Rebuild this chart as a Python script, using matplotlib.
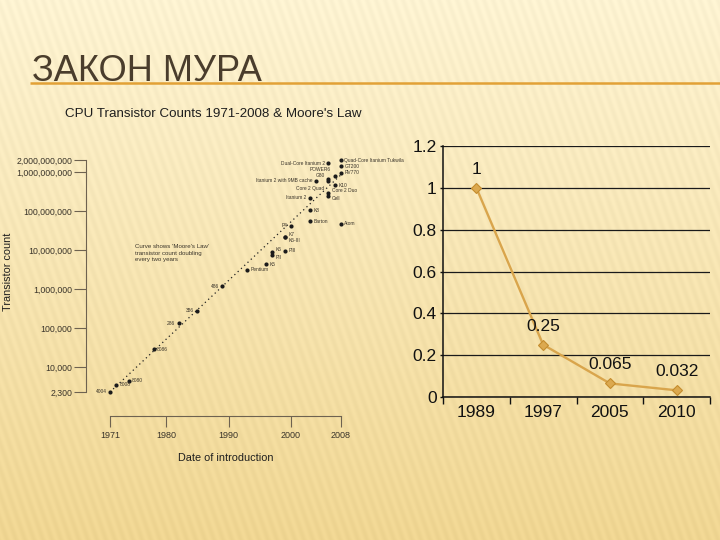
import numpy as np
import matplotlib
matplotlib.use("Agg")
import matplotlib.pyplot as plt
from matplotlib.ticker import FixedLocator, NullLocator, FixedFormatter

plt.rcParams['font.family'] = ['Liberation Sans', 'DejaVu Sans']

# ---------------- data ----------------
title_text = "ЗАКОН МУРА"

cpu_names = ["4004", "8008", "8080", "8086", "286", "386", "486", "Pentium", "K5",
             "K6", "PII", "PIII", "K7", "K6-III", "P4", "Barton", "Atom", "K8",
             "Itanium 2", "Core 2 Duo", "Cell", "K10", "Core 2 Quad",
             "Itanium 2 with 9MB cache", "G80", "POWER6", "Dual-Core Itanium 2",
             "Quad-Core Itanium Tukwila", "GT200", "RV770"]
cpu_years = [1971, 1972, 1974, 1978, 1982, 1985, 1989, 1993, 1996,
             1997, 1997, 1999, 1999, 1999, 2000, 2003, 2008, 2003,
             2003, 2006, 2006, 2007, 2006,
             2004, 2006, 2007, 2006,
             2008, 2008, 2008]
cpu_counts = [2300, 3500, 4500, 29000, 134000, 275000, 1200000, 3100000, 4300000,
              8800000, 7500000, 9500000, 22000000, 21300000, 42000000, 54300000, 47000000, 105900000,
              220000000, 291000000, 241000000, 463000000, 582000000,
              592000000, 681000000, 789000000, 1700000000,
              2000000000, 1400000000, 956000000]

moore_start_year = 1971
moore_end_year = 2008
moore_start_count = 2300
moore_doubling_years = 2

left_yticks = [2300, 10000, 100000, 1000000, 10000000, 100000000, 1000000000, 2000000000]
left_yticklabels = ["2,300", "10,000", "100,000", "1,000,000", "10,000,000",
                    "100,000,000", "1,000,000,000", "2,000,000,000"]
left_xticks = [1971, 1980, 1990, 2000, 2008]

right_categories = ["1989", "1997", "2005", "2010"]
right_values = [1, 0.25, 0.065, 0.032]
right_labels = ["1", "0.25", "0.065", "0.032"]
right_yticks = [0, 0.2, 0.4, 0.6, 0.8, 1, 1.2]

# ---------------- figure ----------------
W, H = 720, 540
fig = plt.figure(figsize=(7.2, 5.4), dpi=100)


def box(l, t, r, b):
    return [l / W, 1 - b / H, (r - l) / W, (b - t) / H]


# background: cream gradient with faint diagonal stripes
yy, xx = np.mgrid[0:H, 0:W]
tt = (yy / H)[..., None]
top = np.array([253, 243, 210]) / 255
bot = np.array([240, 214, 146]) / 255
img = top * (1 - tt) + bot * tt
stripes = 0.013 * np.sin(2 * np.pi * (xx + 0.35 * (H - yy)) / 9.0)
img = np.clip(img + stripes[..., None], 0, 1)
bg = fig.add_axes([0, 0, 1, 1], zorder=-10)
bg.imshow(img, extent=[0, W, H, 0], aspect='auto')
bg.set_xlim(0, W)
bg.set_ylim(H, 0)
bg.axis('off')

# slide title
fig.text(32 / W, 1 - 81 / H, title_text, fontsize=26, color='#4a3d2c',
         family=['Liberation Sans Narrow', 'Liberation Sans', 'DejaVu Sans'],
         ha='left', va='baseline')
bg.plot([30, 720], [82.5, 82.5], color='#E2A136', lw=1.8, solid_capstyle='butt')

# ---------------- left chart (transistor counts) ----------------
axc = '#6e6250'
ax1 = fig.add_axes(box(86, 150, 355, 416))
ax1.set_facecolor('none')
ax1.set_yscale('log')
ax1.set_xlim(1967.15, 2010.26)
ax1.set_ylim(557.5, 3.69e9)
for s in ['top', 'right']:
    ax1.spines[s].set_visible(False)
ax1.spines['left'].set_bounds(left_yticks[0], left_yticks[-1])
ax1.spines['bottom'].set_bounds(left_xticks[0], left_xticks[-1])
for s in ['left', 'bottom']:
    ax1.spines[s].set_color(axc)
    ax1.spines[s].set_linewidth(0.8)
ax1.yaxis.set_major_locator(FixedLocator(left_yticks))
ax1.yaxis.set_major_formatter(FixedFormatter(left_yticklabels))
ax1.yaxis.set_minor_locator(NullLocator())
ax1.set_xticks(left_xticks)
ax1.set_xticklabels([str(v) for v in left_xticks])
ax1.tick_params(axis='y', length=8.5, width=0.8, color=axc, labelsize=6.3,
                pad=1.5, labelcolor='#3a342a')
ax1.tick_params(axis='x', length=8, width=0.8, color=axc, labelsize=6.5,
                pad=2.5, labelcolor='#3a342a')

yrs = np.linspace(moore_start_year + 0.5, moore_end_year, 200)
moore = moore_start_count * 2 ** ((yrs - moore_start_year) / moore_doubling_years)
ax1.plot(yrs, moore, color='#222222', lw=0.9, ls=(0, (1, 2.6)))

ax1.scatter(cpu_years, cpu_counts, s=9, color='#1b1b1b', zorder=3, linewidths=0)

# label placement (offset in points, alignment)
label_place = {
    "4004": (-2.5, 0, 'right'), "286": (-2.5, 0, 'right'), "386": (-2.5, 0, 'right'),
    "486": (-2.5, 0, 'right'), "P4": (-2.5, 0, 'right'), "Itanium 2": (-2.5, 0, 'right'),
    "Core 2 Quad": (-3, -5, 'right'), "Itanium 2 with 9MB cache": (-2.5, 0, 'right'),
    "G80": (-2.5, 2.5, 'right'), "POWER6": (-2.5, 5, 'right'),
    "Dual-Core Itanium 2": (-2.5, 0, 'right'),
    "K6": (2.5, 1.8, 'left'), "PII": (2.5, -2.0, 'left'),
    "K7": (2.5, 1.8, 'left'), "K6-III": (2.5, -2.0, 'left'),
    "Core 2 Duo": (2.5, 1.8, 'left'), "Cell": (2.5, -2.0, 'left'),
}
for name, yr, cnt in zip(cpu_names, cpu_years, cpu_counts):
    dx, dy, ha = label_place.get(name, (2.5, 0, 'left'))
    ax1.annotate(name, (yr, cnt), xytext=(dx, dy), textcoords='offset points',
                 ha=ha, va='center', fontsize=3.5, color='#3a342a')

fig.text(135 / W, 1 - 253 / H,
         "Curve shows 'Moore's Law'\ntransistor count doubling\nevery two years",
         fontsize=4.4, color='#3a342a', ha='left', va='center', linespacing=1.5)

fig.text(213 / W, 1 - 114 / H, "CPU Transistor Counts 1971-2008 & Moore's Law",
         fontsize=9.6, color='#1e1e1e', ha='center', va='center')
fig.text(8 / W, 1 - 272 / H, "Transistor count", rotation=90, fontsize=7.8,
         color='#1e1e1e', ha='center', va='center')
fig.text(226 / W, 1 - 458 / H, "Date of introduction", fontsize=7.8,
         color='#1e1e1e', ha='center', va='center')

# ---------------- right chart ----------------
ax2 = fig.add_axes(box(443, 146, 710, 397))
ax2.set_facecolor('none')
x = np.arange(len(right_categories))
ax2.set_xlim(-0.5, len(right_categories) - 0.5)
ax2.set_ylim(0, 1.2)
ax2.set_yticks(right_yticks)
ax2.set_yticklabels(["%g" % v for v in right_yticks])
ax2.yaxis.grid(True, color='#1a1a1a', lw=0.9)
ax2.set_axisbelow(True)
for s in ['top', 'right']:
    ax2.spines[s].set_visible(False)
for s in ['left', 'bottom']:
    ax2.spines[s].set_color('#111111')
    ax2.spines[s].set_linewidth(1.1)
ax2.set_xticks(x)
ax2.set_xticklabels(right_categories)
ax2.xaxis.set_minor_locator(FixedLocator(np.arange(len(right_categories) + 1) - 0.5))
ax2.tick_params(axis='x', which='major', length=0, labelsize=12.5, pad=6,
                labelcolor='#111111')
ax2.tick_params(axis='x', which='minor', length=5, width=1, color='#111111')
ax2.tick_params(axis='y', length=2.5, width=1, color='#111111', labelsize=12.5,
                pad=2, labelcolor='#111111')

ax2.plot(x, right_values, color='#D9A54C', lw=1.7, marker='D', ms=5.5,
         mfc='#DCA94F', mec='#C48C2E', mew=0.8, zorder=3, clip_on=False)

for xi, v, lab in zip(x, right_values, right_labels):
    ax2.annotate(lab, (xi, v), xytext=(0, 13.3), textcoords='offset points',
                 ha='center', va='center', fontsize=12.5, color='#111111')

fig.savefig("out.png", dpi=100)
